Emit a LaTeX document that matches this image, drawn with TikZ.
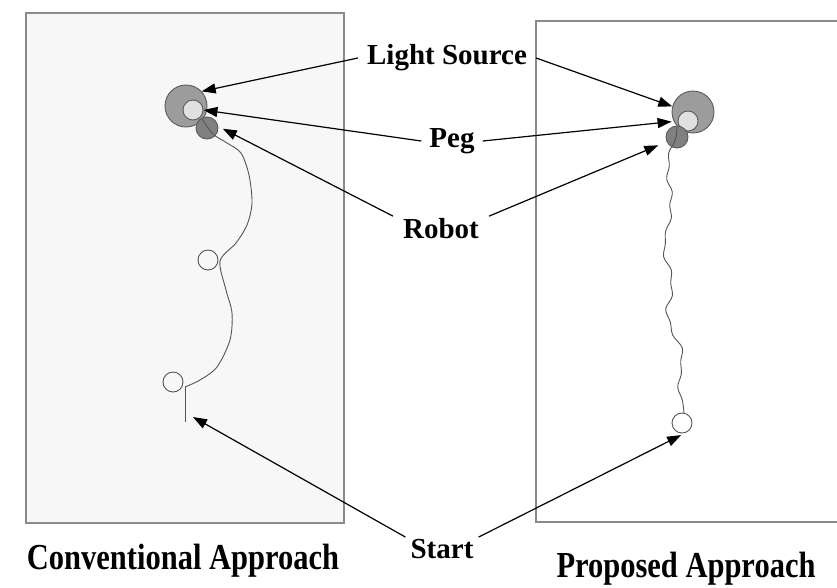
\documentclass[tikz,border=0pt]{standalone}
\usepackage{fontspec}
\setmainfont{Liberation Serif}
\usetikzlibrary{arrows.meta}

\definecolor{panelfill}{HTML}{F7F7F7}
\definecolor{panelline}{HTML}{8A8A8A}
\definecolor{lightfill}{HTML}{9C9C9C}
\definecolor{pegfill}{HTML}{E0E0E0}
\definecolor{robotfill}{HTML}{808080}
\definecolor{ringline}{HTML}{5A5A5A}
\definecolor{trackline}{HTML}{555555}

\newcommand{\tallcaption}[1]{\scalebox{1}[1.2]{#1}}

\tikzset{
  panel/.style={draw=panelline, line width=1.4pt},
  lamp/.style={circle, draw=ringline, fill=lightfill, line width=0.9pt, minimum size=42pt, inner sep=0pt},
  pegdisc/.style={circle, draw=ringline, fill=pegfill, line width=0.9pt, minimum size=20pt, inner sep=0pt},
  robotdisc/.style={circle, draw=ringline, fill=robotfill, line width=0.9pt, minimum size=22pt, inner sep=0pt},
  loopring/.style={circle, draw=trackline, line width=0.9pt, minimum size=20pt, inner sep=0pt},
  track/.style={draw=trackline, line width=0.9pt},
  tag/.style={font=\bfseries\fontsize{29}{31}\selectfont, inner xsep=9pt, inner ysep=3pt},
  caption/.style={font=\bfseries\fontsize{30.5}{32}\selectfont, inner sep=0pt},
  pointer/.style={draw=black, line width=1.2pt, -{Triangle[length=14pt,width=10pt]}}
}

\begin{document}
\begin{tikzpicture}[x=1pt,y=-1pt]
\useasboundingbox (0,0) rectangle (837,587);
\clip (0,0) rectangle (837,587);

% the two arenas
\draw[panel, fill=panelfill] (26,13) rectangle (344,523);
\draw[panel, fill=white] (536,21) rectangle (850,522);

% conventional approach: light source, peg, robot
\node[lamp] (lampL) at (186,106) {};
\node[pegdisc] (pegL) at (193,110) {};
\node[robotdisc] (robL) at (207,128) {};

% conventional approach: looping path from the start
\draw[track] plot[smooth] coordinates {(202,119) (213,134) (227,143) (241,153) (249,175) (252,203) (247,225) (236,243) (220,261) (226,290) (232,313) (230,340) (217,367) (200,380) (185,387)};
\draw[track] (185,387) -- (185,422);
\node[loopring] (loopA) at (208,260) {};
\node[loopring] (loopB) at (173,382) {};
\coordinate (startL) at (193,417);

% proposed approach: light source, peg, robot
\node[lamp] (lampR) at (693,112) {};
\node[pegdisc] (pegR) at (688,121) {};
\node[robotdisc] (robR) at (677,137) {};

% proposed approach: nearly straight, slightly wavy path from the start
\draw[track, line join=round] plot[smooth, tension=0.6] coordinates {
  (677,127) (675.3,140) (668.7,153) (669.3,166) (666.7,179) (672.3,192)
  (669.7,205) (671.3,218) (665.7,231) (665.3,244) (663.7,257) (671.3,270)
  (670.7,283) (672.3,296) (665.7,309) (670.3,322) (672.7,335) (682.3,348)
  (680.7,361) (681.3,374) (677.7,387) (682.3,400) (684,413)};
\node[loopring, fill=white] (startR) at (682,423) {};

% labels
\node[tag] (lsTag) at (447,58) {Light Source};
\node[tag, inner xsep=8pt] (pegTag) at (452,141) {Peg};
\node[tag, inner xsep=10pt] (robTag) at (441,229) {Robot};
\node[tag, inner xsep=5pt, inner ysep=2pt] (startTag) at (442,549) {Start};
\node[caption] (convCap) at (183,561) {\tallcaption{Conventional Approach}};
\node[caption] (propCap) at (686,569) {\tallcaption{Proposed Approach}};

% pointers
\draw[pointer] (lsTag.west) -- (lampL.43);
\draw[pointer] (lsTag.east) -- (lampR.165);
\draw[pointer] (pegTag.west) -- (pegL.east);
\draw[pointer, shorten >=6pt] (pegTag.east) -- (pegR.west);
\draw[pointer, shorten >=5pt] (robTag.165) -- (robL.8);
\draw[pointer, shorten >=9pt] (robTag.15) -- (robR.205);
\draw[pointer] (startTag.north west) -- (startL);
\draw[pointer, shorten >=5pt] (startTag.north east) -- (startR.-70);
\end{tikzpicture}
\end{document}
